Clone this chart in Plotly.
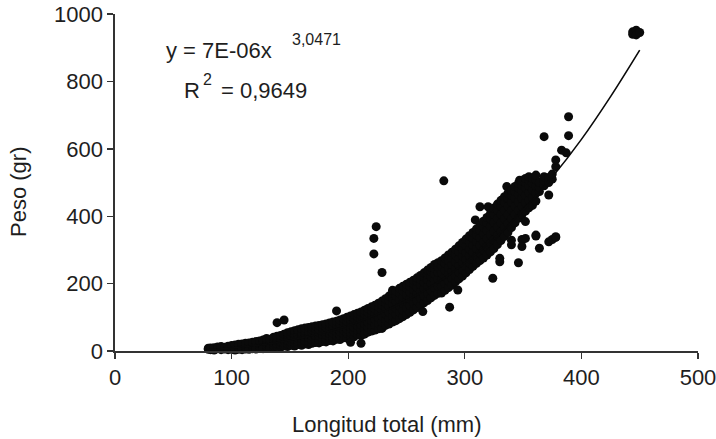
import plotly.graph_objects as go

# Samples, grouped by total length (mm) -> weights (g)
col_length = [
    80, 82, 85, 88, 91, 94, 97, 100, 103, 106, 109, 112, 115, 118, 121, 124, 127,
    130, 133, 136, 139, 142, 145, 148, 151, 154, 157, 160, 163, 166, 169, 172,
    175, 178, 181, 184, 187, 190, 193, 196, 199, 202, 205, 208, 211, 214, 217,
    220, 222, 223, 224, 226, 229, 232, 235, 238, 241, 244, 247, 250, 253, 256,
    259, 262, 264, 265, 268, 271, 274, 277, 280, 282, 283, 286, 287, 289, 292,
    294, 295, 298, 301, 304, 307, 309, 310, 313, 316, 319, 320, 322, 324, 325,
    328, 330, 331, 334, 336, 337, 340, 343, 346, 347, 349, 352, 355, 358, 361,
    364, 368, 372, 375, 378, 383, 387, 389, 444, 447, 450,
]
col_weights = [
    [5, 8], [4, 9], [6, 3, 10], [7, 12], [4, 9, 13], [6, 11], [8, 14, 4],
    [5, 10, 16], [7, 13, 18, 3], [5, 11, 16, 20], [8, 14, 21, 4], [6, 12, 18, 23],
    [9, 15, 24, 5], [7, 13, 19, 26], [10, 17, 28, 6], [8, 14, 22, 30], [11, 18, 26, 33, 7],
    [9, 16, 23, 31, 37], [12, 19, 28, 35, 8], [10, 17, 25, 33, 41], [13, 21, 30, 38, 44, 84],
    [11, 19, 27, 36, 46], [15, 23, 32, 41, 50, 92], [13, 21, 30, 39, 48, 54],
    [17, 26, 35, 45, 57], [15, 24, 33, 43, 52, 60], [19, 28, 38, 48, 58, 63],
    [17, 27, 36, 46, 55, 66], [21, 30, 41, 51, 60, 68], [19, 29, 39, 49, 58, 70],
    [23, 33, 44, 54, 64, 72], [25, 35, 46, 56, 66, 74],
    [24, 34, 45, 55, 65, 76], [28, 38, 49, 59, 69, 78], [27, 37, 48, 58, 70, 80],
    [31, 41, 52, 62, 73, 83], [30, 40, 53, 64, 75, 86], [35, 45, 56, 67, 78, 88, 119],
    [34, 46, 58, 70, 81, 92], [39, 50, 62, 74, 86, 96], [38, 52, 65, 77, 89, 100],
    [43, 55, 68, 80, 93, 104, 26], [42, 57, 70, 84, 97, 108], [48, 61, 75, 88, 102, 112],
    [46, 63, 78, 92, 106, 116, 23], [52, 66, 81, 96, 110, 121, 50], [56, 70, 85, 100, 115, 126],
    [59, 74, 90, 105, 120, 131], [334, 288], [62, 78, 94, 110, 125, 136], [369],
    [66, 82, 99, 115, 131, 142], [67, 86, 104, 120, 137, 148, 233],
    [76, 92, 110, 127, 143, 155], [80, 97, 115, 133, 150, 163],
    [86, 103, 121, 139, 157, 172, 180], [90, 109, 127, 146, 164, 178],
    [96, 115, 134, 153, 171, 186], [102, 121, 141, 160, 178, 192],
    [108, 128, 148, 167, 186, 198], [115, 135, 155, 174, 192, 204],
    [122, 142, 162, 182, 199, 210], [129, 149, 170, 189, 206, 217],
    [136, 157, 177, 197, 213, 224], [117], [143, 164, 185, 204, 220, 232],
    [150, 172, 193, 212, 228, 240], [158, 180, 201, 220, 236, 248],
    [165, 188, 210, 229, 245, 257], [171, 193, 214, 234, 250, 262],
    [172, 192, 212, 232, 252, 268], [505], [180, 200, 220, 240, 260, 276],
    [188, 208, 228, 248, 268, 285], [130], [196, 216, 236, 256, 276, 293],
    [205, 225, 245, 265, 285, 302], [181], [214, 234, 254, 274, 294, 312],
    [222, 242, 262, 282, 302, 322], [232, 252, 272, 292, 312, 332],
    [242, 262, 283, 303, 323, 342], [251, 272, 293, 314, 334, 352], [389],
    [260, 282, 304, 325, 345, 362], [268, 291, 314, 336, 357, 373, 428],
    [276, 300, 324, 347, 368, 385], [285, 310, 334, 358, 380, 396], [428],
    [294, 320, 345, 370, 392, 408], [216], [304, 330, 356, 382, 405, 424],
    [316, 342, 368, 394, 418, 436], [265, 275], [328, 354, 380, 406, 430, 447],
    [340, 366, 392, 418, 442, 458], [488], [352, 378, 404, 430, 454, 468],
    [366, 392, 418, 442, 462, 476, 329, 315], [380, 405, 430, 454, 474, 488],
    [394, 418, 442, 465, 484, 497, 262], [507], [405, 430, 453, 475, 492, 505, 331, 310],
    [415, 440, 462, 484, 500, 512, 334, 384], [425, 448, 470, 490, 506, 517],
    [432, 455, 478, 498, 513], [445, 468, 490, 508, 522, 341, 344],
    [473, 485, 500, 305], [490, 505, 517, 636], [463, 500, 515, 324], [510, 525, 331],
    [547, 567, 337, 339], [596], [588], [639, 695],
    [947, 940], [952, 938], [945],
]

length_mm = [x for x, ws in zip(col_length, col_weights) for _ in ws]
weight_g = [w for ws in col_weights for w in ws]

# Fitted power trend line
fit_length = [80, 100, 125, 150, 175, 200, 225, 250, 275, 300, 325, 350, 375, 400, 425, 450]
fit_weight = [4, 9, 18, 32, 51, 76, 109, 150, 200, 261, 333, 418, 516, 628, 755, 893]

x_ticks = [0, 100, 200, 300, 400, 500]
y_ticks = [0, 200, 400, 600, 800, 1000]

W, H = 716, 439
L, R, T, B = 115, 18, 14, 88
pw, ph = W - L - R, H - T - B

def px(xp):
    return (xp - L) / pw

def py(yp):
    return (H - B - yp) / ph

FONT = "Liberation Sans, Arial, sans-serif"
INK = "#1e1e1e"

fig = go.Figure()
fig.add_trace(go.Scatter(
    x=length_mm, y=weight_g, mode="markers",
    marker=dict(size=9, color="#0a0a0a", line=dict(width=0)),
    cliponaxis=False, showlegend=False, hoverinfo="skip",
))
fig.add_trace(go.Scatter(
    x=fit_length, y=fit_weight, mode="lines",
    line=dict(color="#0a0a0a", width=1.6, shape="spline"),
    cliponaxis=False, showlegend=False, hoverinfo="skip",
))

axis_common = dict(
    showgrid=False, zeroline=False, showline=True, linecolor="#333333", linewidth=1.6,
    ticks="outside", ticklen=6, tickwidth=1.4, tickcolor="#333333",
    tickfont=dict(family=FONT, size=22, color=INK), automargin=False,
    ticklabeloverflow="allow",
)
fig.update_xaxes(range=[0, 500], tickvals=x_ticks, **axis_common)
fig.update_yaxes(range=[0, 1000], tickvals=y_ticks, **axis_common)

ann = [
    dict(text="Longitud total (mm)", x=px(387), y=py(424), size=22),
    dict(text="Peso (gr)", x=px(18), y=py(192), size=22, angle=-90),
    dict(text="y = 7E-06x", x=px(219), y=py(50), size=22),
    dict(text="3,0471", x=px(316), y=py(39), size=16),
    dict(text="R", x=px(192), y=py(90), size=22),
    dict(text="2", x=px(207), y=py(79), size=16),
    dict(text="= 0,9649", x=px(264), y=py(90), size=22),
]
annotations = []
for a in ann:
    annotations.append(dict(
        text=a["text"], x=a["x"], y=a["y"], xref="paper", yref="paper",
        showarrow=False, xanchor="center", yanchor="middle",
        textangle=a.get("angle", 0),
        font=dict(family=FONT, size=a["size"], color=INK),
    ))

fig.update_layout(
    width=W, height=H,
    margin=dict(l=L, r=R, t=T, b=B, pad=0),
    paper_bgcolor="white", plot_bgcolor="white",
    annotations=annotations,
)

fig.write_html(
    "out.html",
    config={"displayModeBar": False, "staticPlot": True},
    post_script="document.body.style.margin='0';document.body.style.overflow='hidden';",
)
